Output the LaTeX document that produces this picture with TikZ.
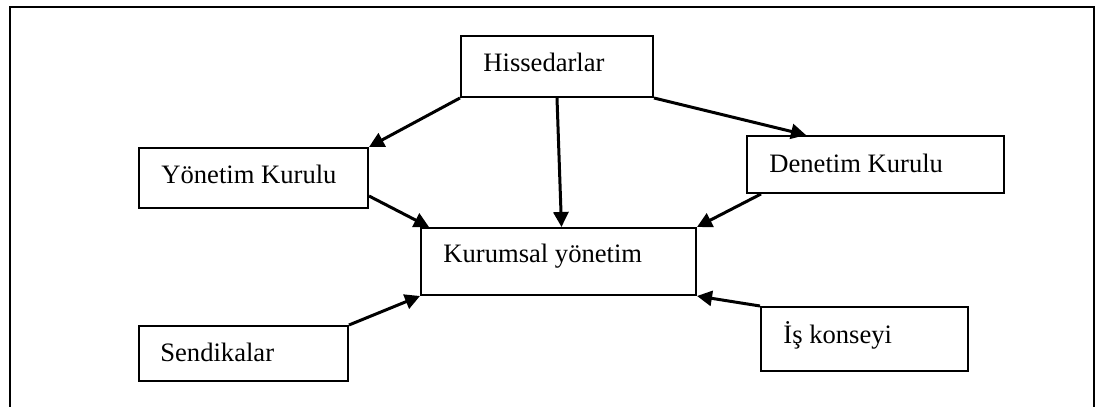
\documentclass[tikz,border=0pt]{standalone}
\usepackage{fontspec}
\setmainfont{Liberation Serif}
\usetikzlibrary{arrows.meta,calc}
\tikzset{
  box/.style={draw, line width=1pt, inner sep=0pt, rectangle},
  lbl/.style={anchor=base west, inner sep=0pt, font=\fontsize{13.3}{15}\selectfont},
  flow/.style={line width=1.5pt, -{Triangle[length=7.5pt,width=7.5pt]}},
}
\begin{document}
\begin{tikzpicture}[x=0.5pt, y=-0.5pt]
  \useasboundingbox (0,0) rectangle (1100,407);
  % open outer frame (bottom edge lies below the page)
  \draw[line width=1.3pt] (10,407) -- (10,7) -- (1094,7) -- (1094,407);

  % boxes
  \node[box, minimum width=96pt,    minimum height=30.5pt] (h) at (557,66.5)   {};
  \node[box, minimum width=114.5pt, minimum height=30pt]   (y) at (253.5,178)  {};
  \node[box, minimum width=128.5pt, minimum height=28.5pt] (d) at (875.5,164.5){};
  \node[box, minimum width=137.5pt, minimum height=33.5pt] (k) at (558.5,261.5){};
  \node[box, minimum width=104.5pt, minimum height=27.5pt] (s) at (243.5,353.5){};
  \node[box, minimum width=103.5pt, minimum height=32pt]   (i) at (864.5,339)  {};

  % labels
  \node[lbl] (ht) at (483,71)  {Hissedarlar};
  \node[lbl] (yt) at (161,183) {Yönetim Kurulu};
  \node[lbl] (dt) at (769,172) {Denetim Kurulu};
  \node[lbl] (kt) at (443,262) {Kurumsal yönetim};
  \node[lbl] (st) at (160,361) {Sendikalar};
  \node[lbl] (it) at (783,343) {İş konseyi};

  % connectors
  \draw[flow] (h.south west) -- (y.north east);
  \draw[flow] (h.south) -- ($(k.north)+(3,0)$);
  \draw[flow] (h.south east) -- ($(d.north west)+(60,0)$);
  \draw[flow] ($(y.south east)+(0,-13)$) -- ($(k.north west)+(9,0)$);
  \draw[flow] ($(d.south west)+(15,0)$) -- (k.north east);
  \draw[flow] (s.north east) -- (k.south west);
  \draw[flow] (i.north west) -- (k.south east);
\end{tikzpicture}
\end{document}
